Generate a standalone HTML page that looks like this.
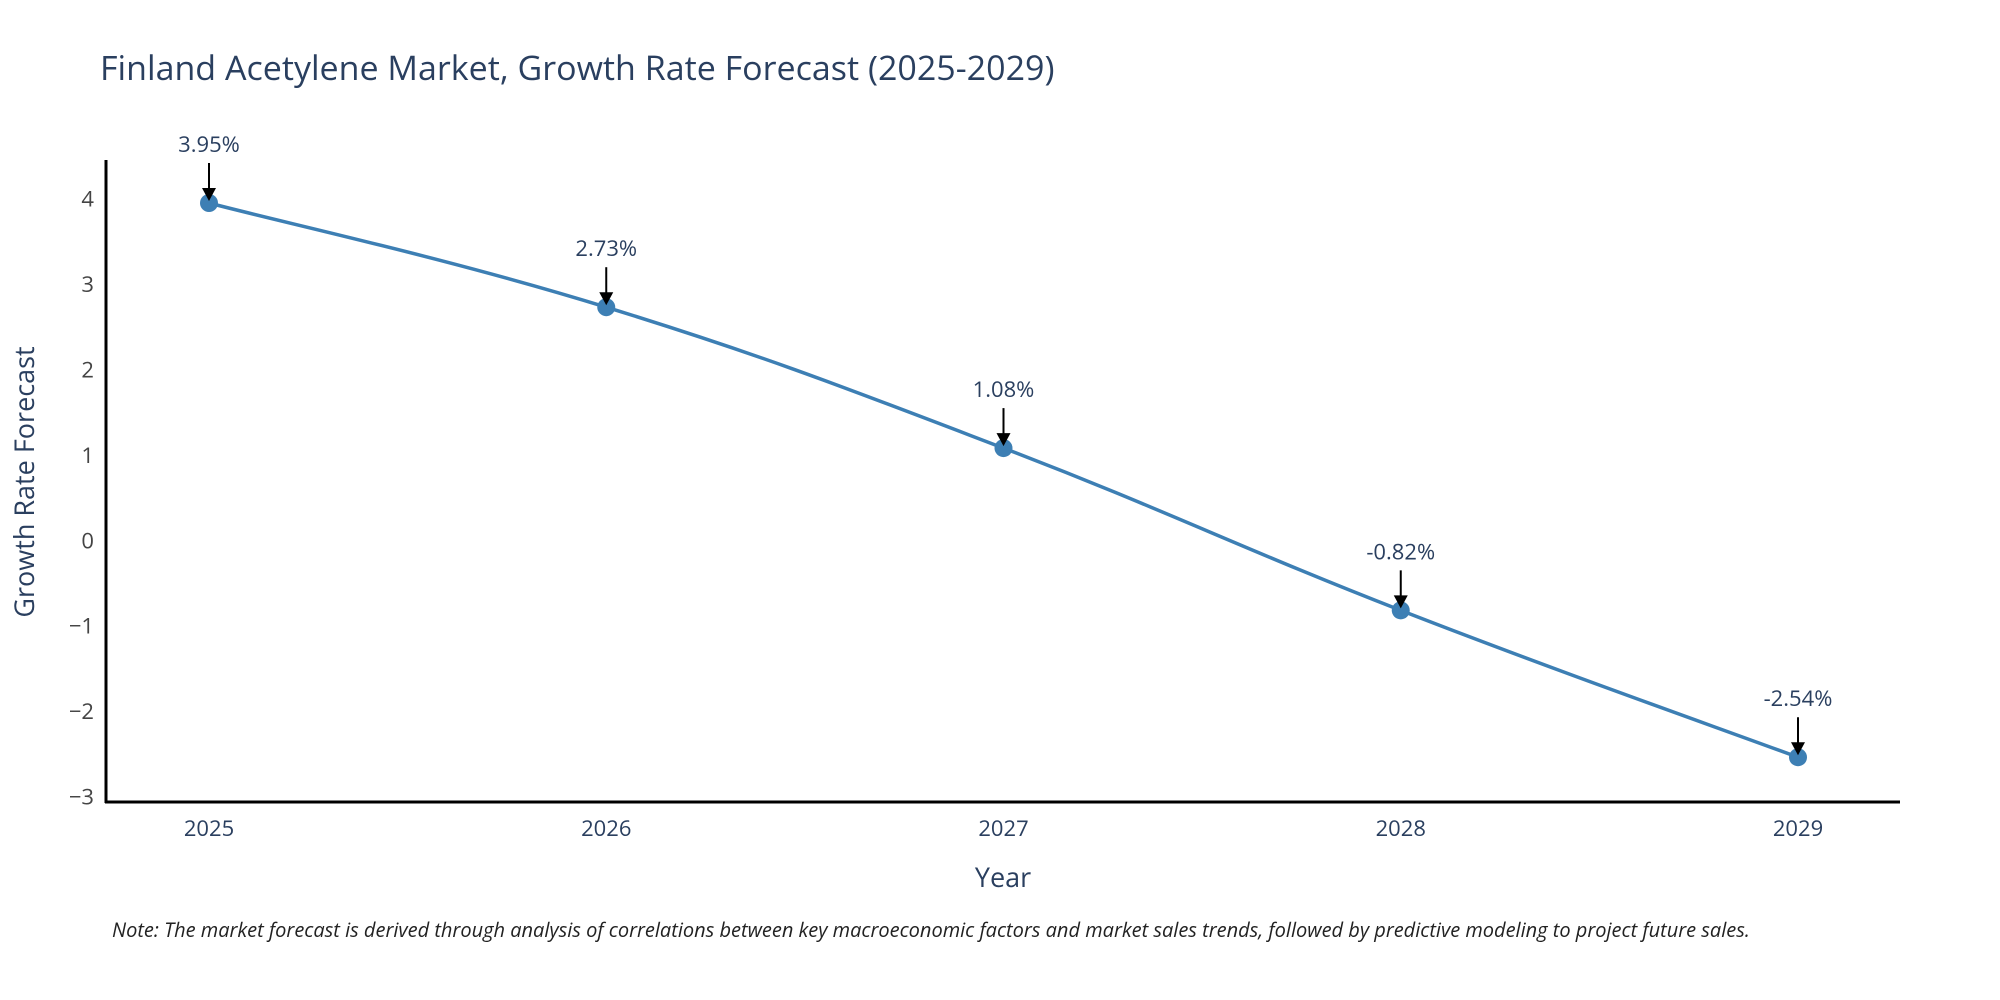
<!DOCTYPE html>
<html><head><meta charset="utf-8"><style>
body{margin:0;background:#fff}
svg{display:block;font-family:"Open Sans","Liberation Sans",sans-serif}
</style></head><body>
<svg id="c" width="2000" height="1000">
<text x="100" y="80" font-size="34" fill="#2a3f5f">Finland Acetylene Market, Growth Rate Forecast (2025-2029)</text>
<text transform="translate(34,482) rotate(-90)" text-anchor="middle" font-size="27" fill="#2a3f5f">Growth Rate Forecast</text>
<text x="1003" y="887" text-anchor="middle" font-size="27" fill="#2a3f5f">Year</text>
<text x="112" y="937" font-size="20" font-style="italic" fill="#222">Note: The market forecast is derived through analysis of correlations between key macroeconomic factors and market sales trends, followed by predictive modeling to project future sales.</text>
<line x1="106" y1="160" x2="106" y2="803" stroke="#000" stroke-width="3"/>
<line x1="105" y1="802" x2="1900" y2="802" stroke="#000" stroke-width="3"/>
<g id="ticks"></g><g id="marks"></g>
</svg>
<script>
const years=["2025","2026","2027","2028","2029"];
const growth=[3.95,2.73,1.08,-0.82,-2.54];
const labels=["3.95%","2.73%","1.08%","-0.82%","-2.54%"];
const yTicks=[-3,-2,-1,0,1,2,3,4];
const NS="http://www.w3.org/2000/svg";
function x(i){return 209+i*397.25;}
function y(v){return 203-(v-3.95)*85.4;}
function mk(t,a,p){const e=document.createElementNS(NS,t);for(const k in a)e.setAttribute(k,a[k]);p.appendChild(e);return e;}
const tg=document.getElementById('ticks'),mg=document.getElementById('marks');
yTicks.forEach(v=>{const t=mk('text',{x:94,y:y(v)+8,'text-anchor':'end','font-size':22,fill:'#444'},tg);


t.textContent=v<0?'\u2212'+Math.abs(v):String(v);});
years.forEach((yr,i)=>{const t=mk('text',{x:x(i),y:836,'text-anchor':'middle','font-size':22,fill:'#2a3f5f'},tg);


t.textContent=yr;});
const P=growth.map((v,i)=>[x(i),y(v)]);
let d='M'+P[0][0]+','+P[0][1];
for(let i=0;i<P.length-1;i++){const p0=P[Math.max(0,i-1)],p1=P[i],p2=P[i+1],p3=P[Math.min(P.length-1,i+2)];
const s=0.2;
d+=' C'+(p1[0]+(p2[0]-p0[0])*s)+','+(p1[1]+(p2[1]-p0[1])*s)+' '+(p2[0]-(p3[0]-p1[0])*s)+','+(p2[1]-(p3[1]-p1[1])*s)+' '+p2[0]+','+p2[1];}
const line=mk('path',{d:d,fill:'none',stroke:'#3d7fb4','stroke-width':3.5},mg);


P.forEach((p,i)=>{const c=mk('circle',{cx:p[0],cy:p[1],r:9,fill:'#3d7fb4'},mg);


const a=mk('line',{x1:p[0],y1:p[1]-40,x2:p[0],y2:p[1]-14,stroke:'#000','stroke-width':2},mg);


const h=mk('polygon',{points:(p[0]-7)+','+(p[1]-15)+' '+(p[0]+7)+','+(p[1]-15)+' '+p[0]+','+(p[1]-2),fill:'#000'},mg);


const t=mk('text',{x:p[0],y:p[1]-51,'text-anchor':'middle','font-size':22,fill:'#2a3f5f'},mg);


t.textContent=labels[i];});
</script>
</body></html>
